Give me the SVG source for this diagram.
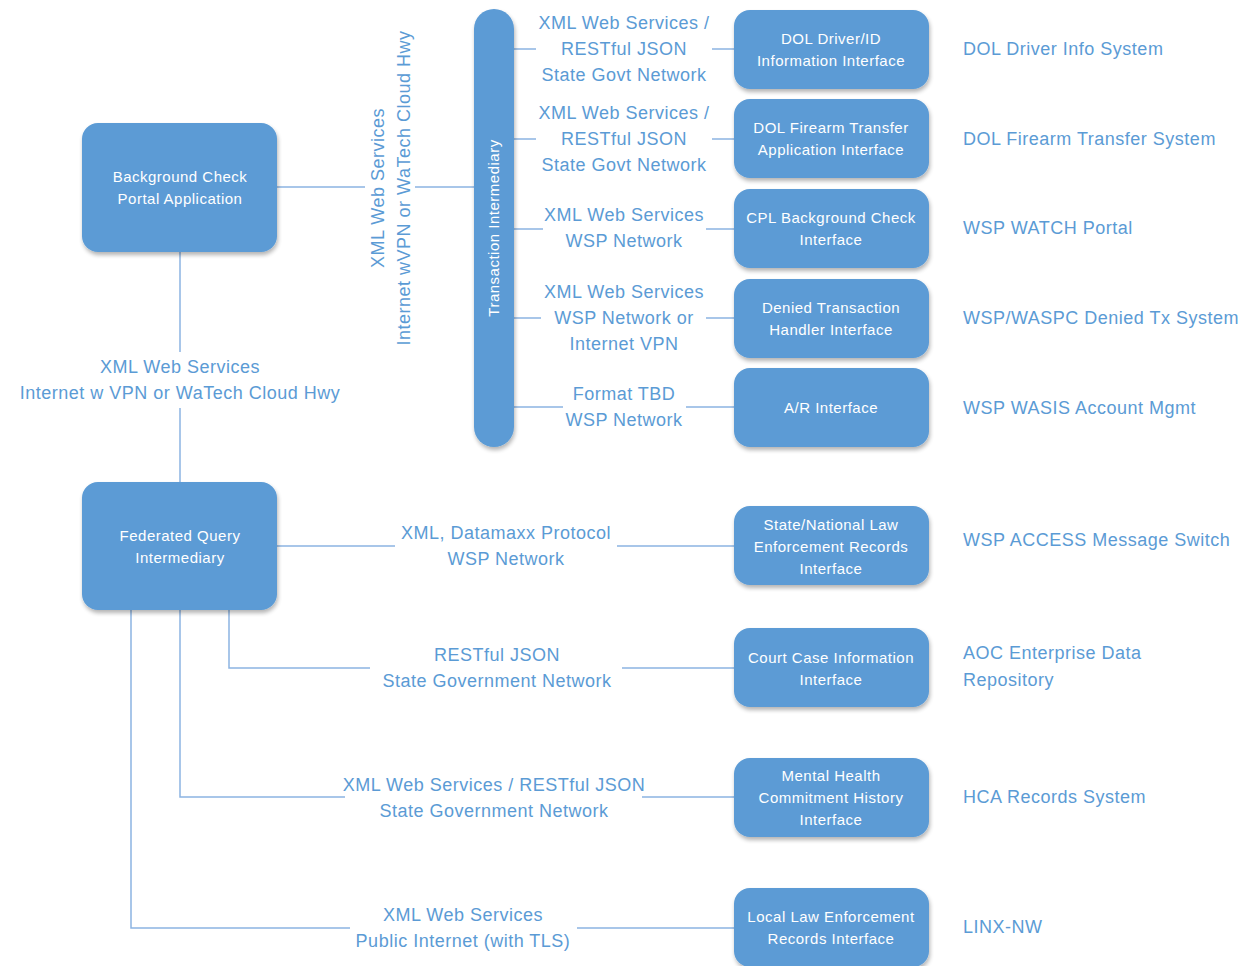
<svg xmlns="http://www.w3.org/2000/svg" width="1244" height="966" viewBox="0 0 1244 966">
<defs>
<filter id="sh" x="-10%" y="-10%" width="125%" height="130%">
<feGaussianBlur in="SourceAlpha" stdDeviation="2"/>
<feOffset dx="1" dy="3" result="b"/>
<feComponentTransfer><feFuncA type="linear" slope="0.3"/></feComponentTransfer>
<feMerge><feMergeNode/><feMergeNode in="SourceGraphic"/></feMerge>
</filter>
</defs>
<style>
.n{fill:#5b9bd5;filter:url(#sh)}
.nt{font-family:"Liberation Sans",Arial,sans-serif;font-size:15px;letter-spacing:0.5px;fill:#ffffff;text-anchor:middle}
.c{stroke:#8cb4e2;stroke-width:1.5;fill:none}
.l{font-family:"Liberation Sans",Arial,sans-serif;font-size:18px;letter-spacing:0.5px;fill:#5b9bd5;text-anchor:middle}
.s{font-family:"Liberation Sans",Arial,sans-serif;font-size:18px;letter-spacing:0.5px;fill:#5b9bd5}
</style>
<rect width="1244" height="966" fill="#ffffff"/>
<g id="connectors">
<path class="c" d="M277 187H365M415 187H474"/>
<path class="c" d="M180 252V352M180 408V482"/>
<path class="c" d="M514 49H536M712 49H734"/>
<path class="c" d="M514 139H536M712 139H734"/>
<path class="c" d="M514 229H543M706 229H734"/>
<path class="c" d="M514 318H541M706 318H734"/>
<path class="c" d="M514 407H563M686 407H734"/>
<path class="c" d="M277 546H395M617 546H734"/>
<path class="c" d="M229 610V668H370M622 668H734"/>
<path class="c" d="M180 610V797H345M642 797H734"/>
<path class="c" d="M131 610V928H350M577 928H734"/>
<text class="l" transform="translate(384 188) rotate(-90)">XML Web Services</text>
<text class="l" transform="translate(410 188) rotate(-90)">Internet wVPN or WaTech Cloud Hwy</text>
<text class="l" x="180" y="373">XML Web Services</text>
<text class="l" x="180" y="399">Internet w VPN or WaTech Cloud Hwy</text>
<text class="l" x="624" y="29">XML Web Services /</text>
<text class="l" x="624" y="55">RESTful JSON</text>
<text class="l" x="624" y="81">State Govt Network</text>
<text class="l" x="624" y="119">XML Web Services /</text>
<text class="l" x="624" y="145">RESTful JSON</text>
<text class="l" x="624" y="171">State Govt Network</text>
<text class="l" x="624" y="221">XML Web Services</text>
<text class="l" x="624" y="247">WSP Network</text>
<text class="l" x="624" y="298">XML Web Services</text>
<text class="l" x="624" y="324">WSP Network or</text>
<text class="l" x="624" y="350">Internet VPN</text>
<text class="l" x="624" y="400">Format TBD</text>
<text class="l" x="624" y="426">WSP Network</text>
<text class="l" x="506" y="539">XML, Datamaxx Protocol</text>
<text class="l" x="506" y="565">WSP Network</text>
<text class="l" x="497" y="661">RESTful JSON</text>
<text class="l" x="497" y="687">State Government Network</text>
<text class="l" x="494" y="791">XML Web Services / RESTful JSON</text>
<text class="l" x="494" y="817">State Government Network</text>
<text class="l" x="463" y="921">XML Web Services</text>
<text class="l" x="463" y="947">Public Internet (with TLS)</text>
</g>
<g id="bg-check">
<rect class="n" x="82" y="123" width="195" height="129" rx="16"/>
<text class="nt" x="180" y="182">Background Check</text>
<text class="nt" x="180" y="204">Portal Application</text>
</g>
<g id="fed-query">
<rect class="n" x="82" y="482" width="195" height="128" rx="16"/>
<text class="nt" x="180" y="541">Federated Query</text>
<text class="nt" x="180" y="563">Intermediary</text>
</g>
<g id="trans-int">
<rect class="n" x="474" y="9" width="40" height="438" rx="20"/>
<text class="nt" transform="translate(499 228) rotate(-90)">Transaction Intermediary</text>
</g>
<g id="dol-driver">
<rect class="n" x="734" y="10" width="195" height="79" rx="16"/>
<text class="nt" x="831" y="44">DOL Driver/ID</text>
<text class="nt" x="831" y="66">Information Interface</text>
</g>
<g id="dol-firearm">
<rect class="n" x="734" y="99" width="195" height="79" rx="16"/>
<text class="nt" x="831" y="133">DOL Firearm Transfer</text>
<text class="nt" x="831" y="155">Application Interface</text>
</g>
<g id="cpl">
<rect class="n" x="734" y="189" width="195" height="79" rx="16"/>
<text class="nt" x="831" y="223">CPL Background Check</text>
<text class="nt" x="831" y="245">Interface</text>
</g>
<g id="denied">
<rect class="n" x="734" y="279" width="195" height="79" rx="16"/>
<text class="nt" x="831" y="313">Denied Transaction</text>
<text class="nt" x="831" y="335">Handler Interface</text>
</g>
<g id="ar">
<rect class="n" x="734" y="368" width="195" height="79" rx="16"/>
<text class="nt" x="831" y="413">A/R Interface</text>
</g>
<g id="state-national">
<rect class="n" x="734" y="506" width="195" height="79" rx="16"/>
<text class="nt" x="831" y="530">State/National Law</text>
<text class="nt" x="831" y="552">Enforcement Records</text>
<text class="nt" x="831" y="574">Interface</text>
</g>
<g id="court">
<rect class="n" x="734" y="628" width="195" height="79" rx="16"/>
<text class="nt" x="831" y="663">Court Case Information</text>
<text class="nt" x="831" y="685">Interface</text>
</g>
<g id="mental">
<rect class="n" x="734" y="758" width="195" height="79" rx="16"/>
<text class="nt" x="831" y="781">Mental Health</text>
<text class="nt" x="831" y="803">Commitment History</text>
<text class="nt" x="831" y="825">Interface</text>
</g>
<g id="local">
<rect class="n" x="734" y="888" width="195" height="79" rx="16"/>
<text class="nt" x="831" y="922">Local Law Enforcement</text>
<text class="nt" x="831" y="944">Records Interface</text>
</g>
<g id="systems">
<text class="s" x="963" y="55">DOL Driver Info System</text>
<text class="s" x="963" y="145">DOL Firearm Transfer System</text>
<text class="s" x="963" y="234">WSP WATCH Portal</text>
<text class="s" x="963" y="324">WSP/WASPC Denied Tx System</text>
<text class="s" x="963" y="414">WSP WASIS Account Mgmt</text>
<text class="s" x="963" y="546">WSP ACCESS Message Switch</text>
<text class="s" x="963" y="659">AOC Enterprise Data</text>
<text class="s" x="963" y="686">Repository</text>
<text class="s" x="963" y="803">HCA Records System</text>
<text class="s" x="963" y="933">LINX-NW</text>
</g>
</svg>
